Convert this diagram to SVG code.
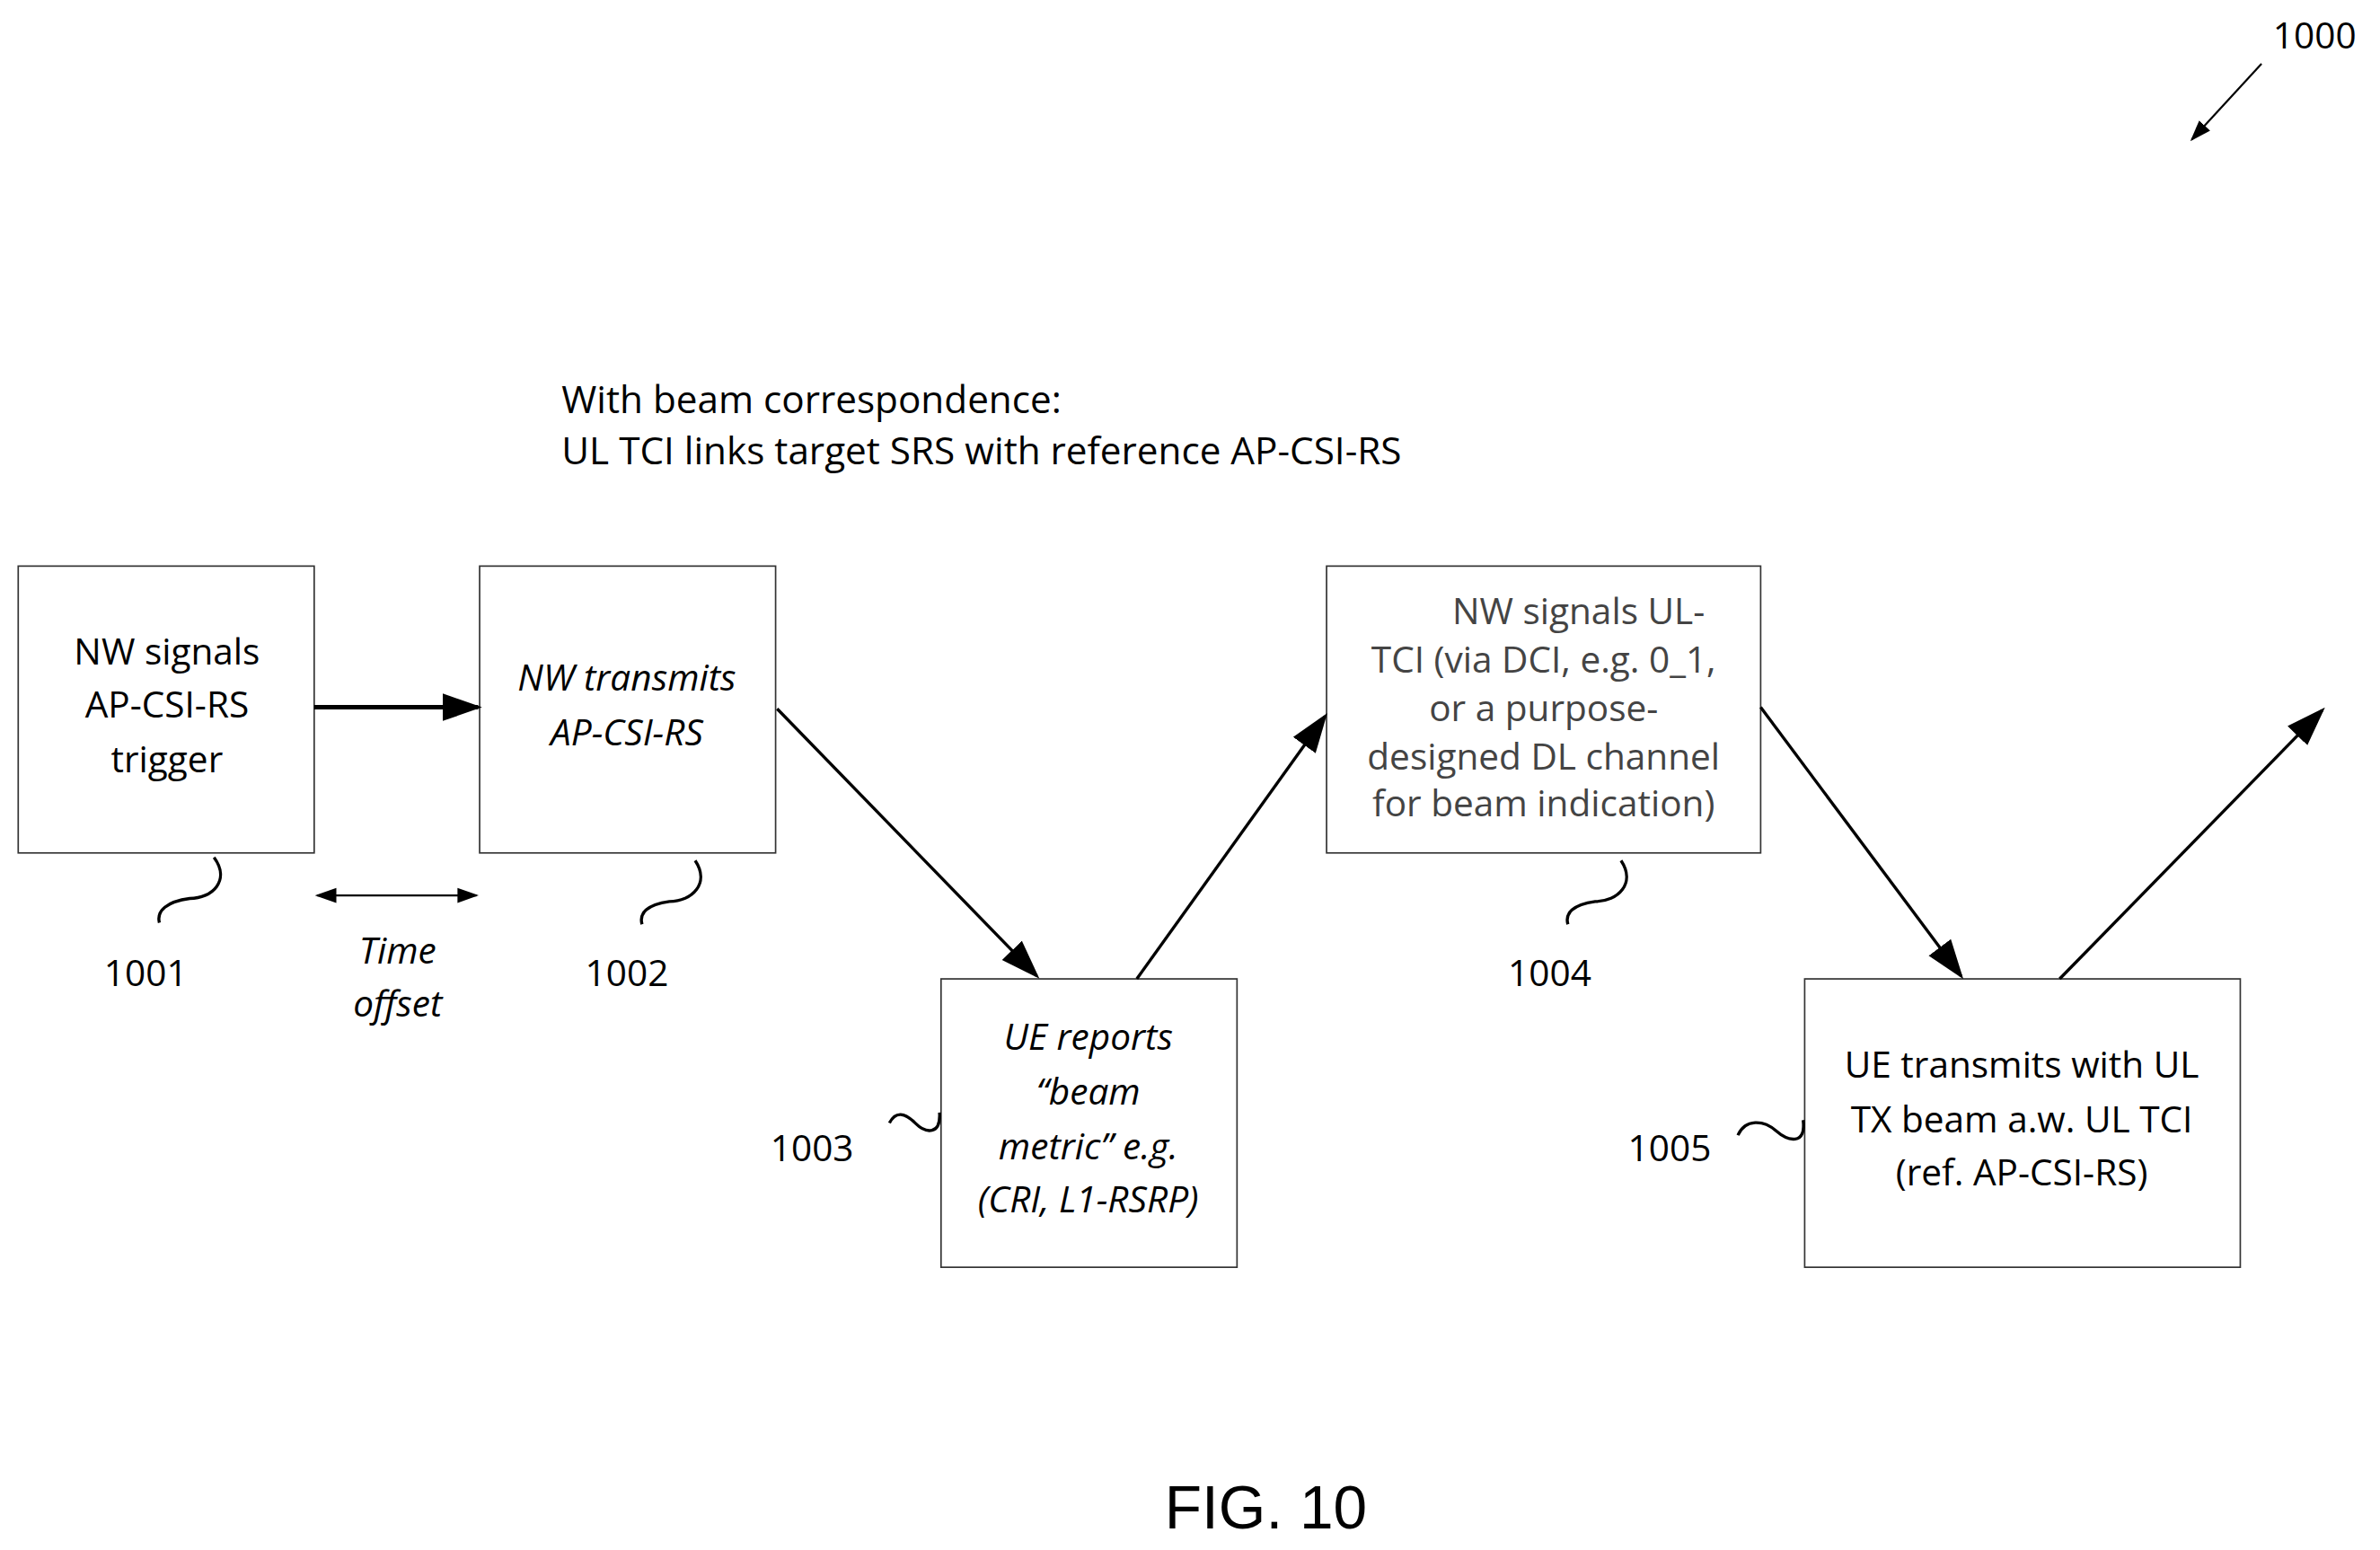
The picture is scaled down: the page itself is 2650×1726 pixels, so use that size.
<svg xmlns="http://www.w3.org/2000/svg" width="2650" height="1726" viewBox="0 0 2650 1726">
<defs>
<marker id="big" viewBox="0 0 10 10" refX="9" refY="5" markerWidth="26" markerHeight="26" orient="auto" markerUnits="userSpaceOnUse"><path d="M0,1.5 L10,5 L0,8.5 z" fill="#000"/></marker>
<marker id="small" viewBox="0 0 10 10" refX="9" refY="5" markerWidth="14" markerHeight="14" orient="auto-start-reverse" markerUnits="userSpaceOnUse"><path d="M0,1.5 L10,5 L0,8.5 z" fill="#000"/></marker>
</defs>
<style>
.box{fill:#fff;stroke:#333;stroke-width:1}
.t{font-family:"Open Sans","Liberation Sans",sans-serif;font-size:24px;fill:#000;text-anchor:middle}
.h{font-size:25px;text-anchor:start}
.i{font-style:italic}
.g{fill:#444}
.c{fill:none;stroke:#000;stroke-width:2}
.sq{fill:none;stroke:#000;stroke-width:2}
</style>
<rect width="2650" height="1726" fill="#fff"/>
<g transform="scale(1.69)">
<g id="header">
<text class="t h" x="370" y="272">With beam correspondence:</text>
<text class="t h" x="370" y="306">UL TCI links target SRS with reference AP-CSI-RS</text>
</g>
<g id="ref1000">
<text class="t" x="1525" y="32">1000</text>
<line class="c" x1="1490" y1="42" x2="1444" y2="92" style="stroke-width:1.3" marker-end="url(#small)"/>
</g>
<g id="n1001">
<rect class="box" x="12" y="373" width="195" height="189"/>
<text class="t" x="110" y="438">NW signals</text>
<text class="t" x="110" y="473">AP-CSI-RS</text>
<text class="t" x="110" y="509">trigger</text>
<path class="sq" d="M141,565 C152,580 140,592 125,592 C110,594 103,600 105,608"/>
<text class="t" x="96" y="650">1001</text>
</g>
<g id="n1002">
<rect class="box" x="316" y="373" width="195" height="189"/>
<text class="t i" x="413" y="455">NW transmits</text>
<text class="t i" x="413" y="491">AP-CSI-RS</text>
<path class="sq" d="M458,567 C468,582 456,594 441,594 C426,596 421,602 423,609"/>
<text class="t" x="413" y="650">1002</text>
</g>
<g id="n1003">
<rect class="box" x="620" y="645" width="195" height="190"/>
<text class="t i" x="717" y="692">UE reports</text>
<text class="t i" x="717" y="728">“beam</text>
<text class="t i" x="717" y="764">metric” e.g.</text>
<text class="t i" x="717" y="799">(CRI, L1-RSRP)</text>
<path class="sq" d="M619,733 C620,748 610,747 603,740 C596,733 590,732 586,740"/>
<text class="t" x="535" y="765">1003</text>
</g>
<g id="n1004">
<rect class="box" x="874" y="373" width="286" height="189"/>
<text class="t g" x="1040" y="411">NW signals UL-</text>
<text class="t g" x="1017" y="443">TCI (via DCI, e.g. 0_1,</text>
<text class="t g" x="1017" y="475">or a purpose-</text>
<text class="t g" x="1017" y="507">designed DL channel</text>
<text class="t g" x="1017" y="538">for beam indication)</text>
<path class="sq" d="M1068,567 C1078,582 1066,594 1051,594 C1036,596 1031,602 1033,609"/>
<text class="t" x="1021" y="650">1004</text>
</g>
<g id="n1005">
<rect class="box" x="1189" y="645" width="287" height="190"/>
<text class="t" x="1332" y="710">UE transmits with UL</text>
<text class="t" x="1332" y="746">TX beam a.w. UL TCI</text>
<text class="t" x="1332" y="781">(ref. AP-CSI-RS)</text>
<path class="sq" d="M1188,738 C1190,755 1178,752 1170,745 C1162,738 1150,737 1145,748"/>
<text class="t" x="1100" y="765">1005</text>
</g>
<g id="timeoffset">
<line class="c" x1="209" y1="590" x2="314" y2="590" style="stroke-width:1.3" marker-start="url(#small)" marker-end="url(#small)"/>
<text class="t i" x="262" y="635">Time</text>
<text class="t i" x="262" y="670">offset</text>
</g>
<g id="connectors">
<line class="c" x1="207" y1="466" x2="315" y2="466" style="stroke-width:3" marker-end="url(#big)"/>
<line class="c" x1="512" y1="467" x2="683" y2="643" marker-end="url(#big)"/>
<line class="c" x1="749" y1="645" x2="873" y2="472" marker-end="url(#big)"/>
<line class="c" x1="1160" y1="466" x2="1292" y2="643" marker-end="url(#big)"/>
<line class="c" x1="1357" y1="645" x2="1530" y2="468" marker-end="url(#big)"/>
</g>
<text x="834" y="1007" style="font-family:'Liberation Sans',Arial,sans-serif;font-size:40px;text-anchor:middle">FIG. 10</text>
</g>
</svg>
